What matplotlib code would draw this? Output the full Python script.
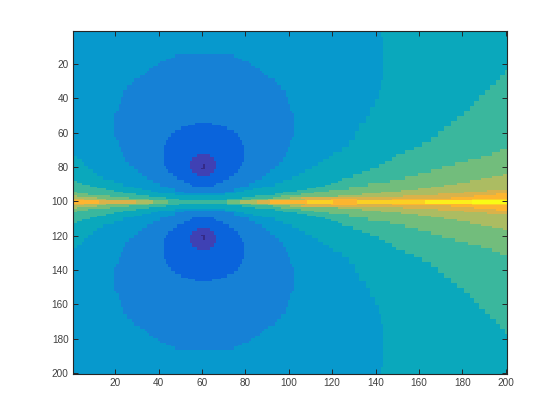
## Level map with stepped bands, mirrored about the centre line

import numpy as np
import matplotlib
matplotlib.use("Agg")
import matplotlib.pyplot as plt
from matplotlib.colors import ListedColormap

plt.rcParams['font.family'] = ['Liberation Sans', 'DejaVu Sans']

# One colour per level
level_colors = ["#352a87", "#3f41b4", "#0a64dc", "#1681d6", "#0799cd", "#0aa8bc", "#3ab79d",
                "#72bd7c", "#acbc62", "#dab24a", "#fdb52f", "#fbd024", "#fcee1c", "#f9fb15"]

ticks = [20, 40, 60, 80, 100, 120, 140, 160, 180, 200]

# Each list gives, for the upper half, [first row, left column, right column]
# A span holds until the next entry, left 0 means nothing at that level
le0 = [[79, 61, 61], [81, 60, 61], [82, 0, 0]]
le1 = [[73, 58, 63], [75, 56, 65], [77, 55, 66], [82, 56, 65], [84, 58, 63], [86, 0, 0]]
le2 = [[55, 57, 64], [56, 54, 68], [57, 51, 71], [59, 48, 74], [61, 46, 76], [63, 45, 77],
       [65, 44, 78], [68, 43, 79], [78, 43, 78], [80, 44, 77], [82, 45, 76], [84, 47, 74],
       [86, 49, 72], [88, 52, 69], [90, 55, 66], [91, 56, 65], [92, 0, 0]]
le3 = [[15, 48, 74], [17, 46, 76], [18, 44, 78], [19, 41, 81], [20, 40, 82], [22, 38, 84],
       [23, 36, 86], [25, 35, 87], [26, 34, 88], [27, 32, 90], [29, 29, 93], [31, 28, 94],
       [33, 26, 96], [36, 24, 98], [40, 23, 99], [44, 22, 100], [48, 21, 101], [49, 20, 102],
       [63, 21, 101], [65, 22, 100], [69, 23, 99], [72, 24, 98], [75, 25, 97], [78, 27, 95],
       [80, 29, 93], [82, 31, 91], [84, 33, 89], [86, 35, 87], [88, 38, 84], [90, 41, 81],
       [92, 45, 77], [93, 48, 74], [95, 52, 70], [96, 0, 0]]
le4 = [[1, 1, 142], [5, 1, 143], [30, 1, 142], [36, 1, 141], [41, 1, 139], [46, 1, 137],
       [51, 1, 135], [55, 1, 132], [60, 1, 130], [65, 1, 127], [69, 1, 124], [72, 1, 120],
       [74, 3, 118], [76, 5, 115], [78, 6, 113], [80, 8, 110], [82, 10, 107], [84, 12, 104],
       [86, 15, 101], [88, 20, 97], [90, 24, 93], [92, 29, 87], [93, 33, 83], [94, 37, 79],
       [95, 40, 75], [96, 48, 70], [97, 0, 0]]
le5 = [[1, 1, 200], [24, 1, 199], [27, 1, 197], [30, 1, 195], [33, 1, 192], [36, 1, 190],
       [39, 1, 187], [42, 1, 185], [45, 1, 183], [48, 1, 180], [51, 1, 177], [54, 1, 174],
       [57, 1, 171], [60, 1, 168], [63, 1, 165], [66, 1, 161], [69, 1, 157], [71, 1, 153],
       [73, 1, 149], [75, 1, 147], [77, 1, 144], [79, 1, 141], [81, 1, 137], [83, 1, 133],
       [85, 1, 129], [87, 1, 124], [89, 3, 122], [90, 5, 119], [91, 9, 116], [92, 12, 112],
       [93, 16, 108], [94, 20, 103], [95, 24, 97], [96, 30, 93], [97, 36, 84], [98, 44, 78],
       [99, 0, 0]]
le6 = [[1, 1, 200], [70, 1, 197], [72, 1, 193], [74, 1, 188], [76, 1, 182], [78, 1, 176],
       [80, 1, 170], [82, 1, 165], [84, 1, 159], [86, 1, 153], [88, 1, 146], [90, 1, 136],
       [92, 1, 127], [94, 1, 118], [95, 3, 111], [96, 8, 105], [97, 18, 96], [98, 27, 92],
       [99, 0, 0]]
le7 = [[1, 1, 200], [85, 1, 198], [86, 1, 193], [87, 1, 188], [88, 1, 183], [90, 1, 177],
       [91, 1, 171], [92, 1, 165], [93, 1, 159], [94, 1, 151], [95, 1, 142], [96, 1, 133],
       [97, 3, 122], [98, 12, 100], [99, 0, 0]]
le8 = [[1, 1, 200], [94, 1, 191], [95, 1, 180], [96, 1, 168], [97, 1, 152], [98, 1, 105],
       [99, 0, 0]]
le9 = [[1, 1, 200], [96, 1, 195], [97, 1, 185], [98, 1, 174], [99, 0, 0]]

# Rows next to the centre are not monotonic, so they are read as runs of [level, last column]
row99 = [[9, 5], [8, 15], [7, 35], [6, 49], [5, 71], [6, 82], [7, 90], [8, 107], [9, 119],
         [10, 131], [9, 147], [10, 184], [11, 200]]
row100 = [[10, 12], [9, 29], [8, 37], [7, 44], [6, 71], [7, 77], [8, 85], [9, 91], [10, 108],
          [11, 120], [10, 131], [11, 162], [12, 184], [13, 200]]

all_levels = [le0, le1, le2, le3, le4, le5, le6, le7, le8, le9]

# Fill the upper half, highest level first so lower levels paint over it
half = np.full((100, 200), 10)
for lev in range(len(all_levels) - 1, -1, -1):
    spans = all_levels[lev]
    for i in range(len(spans) - 1):
        first, left, right = spans[i]
        if left == 0:
            continue
        half[first - 1:spans[i + 1][0] - 1, left - 1:right] = lev

for rowNum, runs in [(99, row99), (100, row100)]:
    start = 0
    for lev, last in runs:
        half[rowNum - 1, start:last] = lev
        start = last

# Lower half is the mirror image
img = np.vstack([half, half[::-1]])

fig = plt.figure(figsize=(5.6, 4.2), dpi=100)
ax = fig.add_axes([0.13, 46.0 / 420, 0.775, 343.5 / 420])
ax.imshow(img, cmap=ListedColormap(level_colors), vmin=-0.5, vmax=len(level_colors) - 0.5,
          extent=[0.5, 200.5, 200.5, 0.5], aspect='auto', interpolation='nearest')

ax.set_xticks(ticks)
ax.set_yticks(ticks)
ax.tick_params(direction='in', top=True, right=True, length=3.4, width=0.7, color='#262626',
               labelcolor='#404040', labelsize=7.2, pad=3)
for side in ax.spines.values():
    side.set_linewidth(0.8)
    side.set_color('#262626')

fig.savefig('out.png', dpi=100)
